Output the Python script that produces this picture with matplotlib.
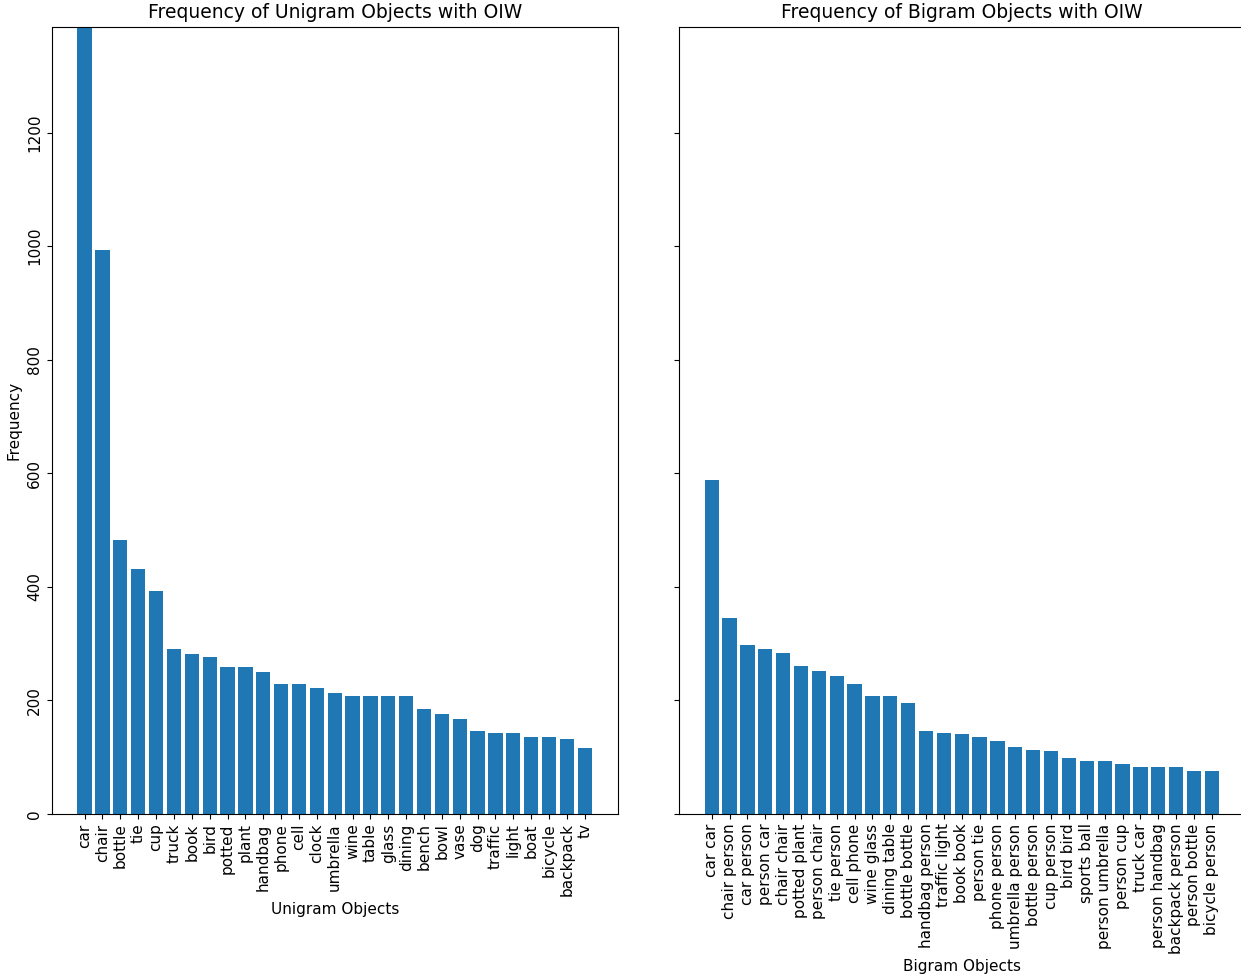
import matplotlib
matplotlib.use("Agg")
import matplotlib.pyplot as plt

uni_labels = ["car", "chair", "bottle", "tie", "cup", "truck", "book", "bird",
              "potted", "plant", "handbag", "phone", "cell", "clock", "umbrella",
              "wine", "table", "glass", "dining", "bench", "bowl", "vase", "dog",
              "traffic", "light", "boat", "bicycle", "backpack", "tv"]
uni_counts = [1500, 994, 482, 432, 392, 291, 282, 277, 259, 259, 249, 228, 228,
              221, 212, 208, 208, 208, 208, 185, 176, 166, 146, 143, 143, 136,
              136, 132, 115]

bi_labels = ["car car", "chair person", "car person", "person car", "chair chair",
             "potted plant", "person chair", "tie person", "cell phone",
             "wine glass", "dining table", "bottle bottle", "handbag person",
             "traffic light", "book book", "person tie", "phone person",
             "umbrella person", "bottle person", "cup person", "bird bird",
             "sports ball", "person umbrella", "person cup", "truck car",
             "person handbag", "backpack person", "person bottle", "bicycle person"]
bi_counts = [588, 345, 297, 290, 283, 260, 251, 242, 228, 208, 208, 195, 145,
             143, 140, 136, 128, 117, 113, 110, 99, 92, 92, 87, 83, 82, 82, 76, 75]

fig, (ax1, ax2) = plt.subplots(1, 2, figsize=(12.41, 9.76), dpi=100, sharey=True)
# right panel runs slightly past the figure edge, as in the original
fig.subplots_adjust(left=0.0417, right=1.003, top=0.9727, bottom=0.1663, wspace=0.108)

ax1.bar(uni_labels, uni_counts)
ax1.set_title("Frequency of Unigram Objects with OIW", fontsize=13.5)
ax1.set_xlabel("Unigram Objects", fontsize=11)
ax1.set_ylabel("Frequency", fontsize=11)
ax1.tick_params(axis="x", labelrotation=90, labelsize=11)
ax1.tick_params(axis="y", labelsize=11)
for t in ax1.get_yticklabels():
    t.set_rotation(90)
    t.set_va("center")

ax2.bar(bi_labels, bi_counts)
ax2.set_title("Frequency of Bigram Objects with OIW", fontsize=13.5)
ax2.set_xlabel("Bigram Objects", fontsize=11)
ax2.tick_params(axis="x", labelrotation=90, labelsize=11)

ax1.set_ylim(0, 1387)

fig.savefig("out.png")
